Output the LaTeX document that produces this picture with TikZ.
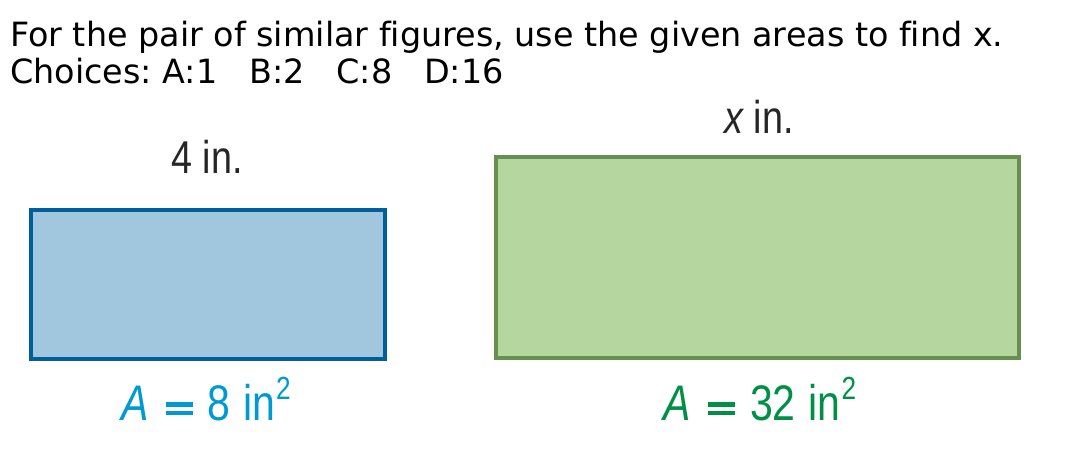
\documentclass[tikz,border=0pt]{standalone}
\usepackage{fontspec}
\setmainfont[Ligatures=NoCommon]{DejaVu Sans}
\newfontfamily\cond[FakeStretch=0.82]{Liberation Sans}
\definecolor{bluefill}{HTML}{A0C7DD}
\definecolor{bluedraw}{HTML}{005E9C}
\definecolor{greenfill}{HTML}{B6D69F}
\definecolor{greendraw}{HTML}{678F4F}
\definecolor{bluetext}{HTML}{0099D3}
\definecolor{greentext}{HTML}{008F47}
\newcommand{\supsq}{\raisebox{21pt}{\fontsize{32}{32}\selectfont 2}}
\newcommand{\wideeq}{\rlap{\rule[5pt]{27pt}{4.5pt}}\rule[13.5pt]{27pt}{4.5pt}}
\newcommand{\eqsp}[1]{{\itshape A}\hspace{17pt}\wideeq\hspace{15pt}#1\hspace{13pt}in\hspace{1pt}\supsq}
\tikzset{
  title/.style={anchor=base west, inner sep=0pt, font=\frenchspacing\fontsize{33.4}{40}\selectfont},
  dimlabel/.style={anchor=base, inner sep=0pt, text=black!85, font=\cond\fontsize{46}{50}\selectfont},
  arealabel/.style={anchor=base, inner sep=0pt, font=\cond\fontsize{50}{56}\selectfont},
  shapebox/.style={line width=3.5pt}
}
\begin{document}
\begin{tikzpicture}[x=1pt,y=-1pt]
\useasboundingbox (0,0) rectangle (1072,458);
\node[title] (t1) at (10,46) {For the pair of similar figures, use the given areas to find x.};
\node[title] (t2) at (10,83) {Choices: A:1\ \ \ B:2\ \ \ C:8\ \ \ D:16};
\draw[shapebox, fill=bluefill, draw=bluedraw] (31,210) rectangle (385,359);
\draw[shapebox, fill=greenfill, draw=greendraw] (496,157) rectangle (1019,358);
\node[dimlabel] (l1) at (207,173) {4 in.};
\node[dimlabel] (l2) at (759,133) {{\itshape x} in.};
\node[arealabel, text=bluetext] (a1) at (206,420) {\eqsp{8}};
\node[arealabel, text=greentext] (a2) at (760,420) {\eqsp{32}};
\end{tikzpicture}
\end{document}
